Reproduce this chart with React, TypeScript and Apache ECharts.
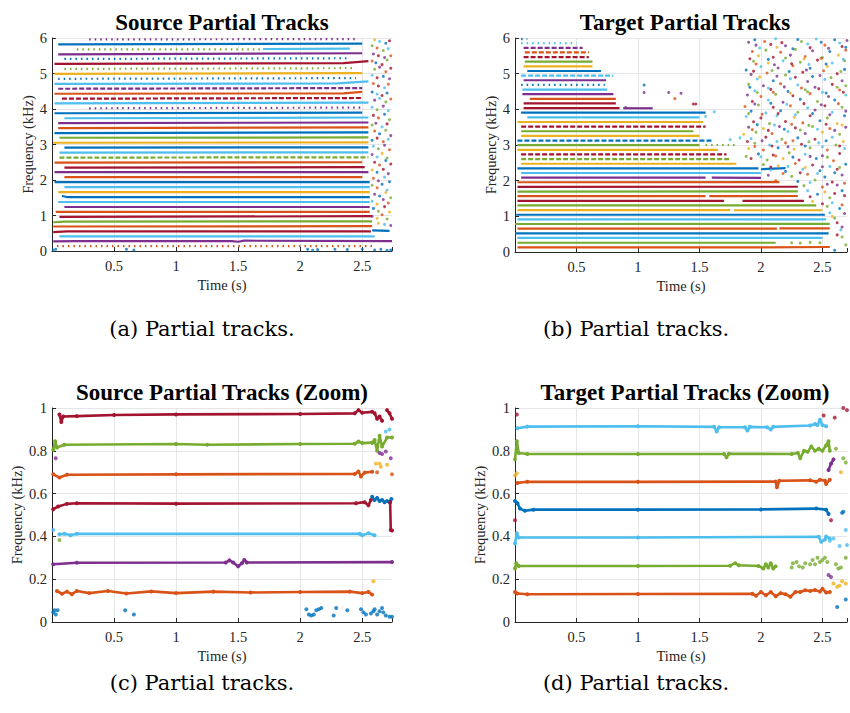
import React, { useEffect, useRef } from 'react';
import * as echarts from 'echarts';

// MATLAB default colour order: blue, orange, yellow, purple, green, light blue, dark red
const PALETTE = ['#0072BD', '#D95319', '#EDB120', '#7E2F8E', '#77AC30', '#4DBEEE', '#A2142F'];

const titles = ['Source Partial Tracks', 'Target Partial Tracks', 'Source Partial Tracks (Zoom)', 'Target Partial Tracks (Zoom)'];
const captions = ['(a) Partial tracks.', '(b) Partial tracks.', '(c) Partial tracks.', '(d) Partial tracks.'];
const xName = 'Time (s)';
const yName = 'Frequency (kHz)';
const timeMax = [2.74, 2.7, 2.74, 2.7];

// ---------- (a) Source partial tracks: each track = list of [time s, freq kHz]
const srcTracks: number[][][] = [
  [[0.04, 0.14], [2.58, 0.14]],
  [[0.01, 0.27], [0.2, 0.28], [1.45, 0.28], [1.5, 0.26], [1.55, 0.29], [2.74, 0.28]],
  [[0.06, 0.41], [2.6, 0.41]],
  [[0.01, 0.53], [0.12, 0.555], [2.57, 0.555]],
  [[2.58, 0.58], [2.72, 0.565]],
  [[0.01, 0.69], [2.58, 0.7]],
  [[0.01, 0.81], [0.1, 0.83], [2.58, 0.835]],
  [[0.06, 0.96], [2.58, 0.98]],
  [[0.03, 1.1], [2.56, 1.1]],
  [[0.1, 1.24], [2.56, 1.24]],
  [[0.05, 1.38], [2.56, 1.38]],
  [[0.08, 1.55], [0.12, 1.52], [2.56, 1.52]],
  [[0.05, 1.66], [2.56, 1.66]],
  [[0.1, 1.8], [2.56, 1.8]],
  [[0.02, 1.94], [2.56, 1.94]],
  [[0.1, 2.08], [2.5, 2.08]],
  [[0.02, 2.22], [2.55, 2.22]],
  [[0.1, 2.35], [2.52, 2.36]],
  [[0.02, 2.49], [2.5, 2.5]],
  [[0.06, 2.63], [2.55, 2.64]],
  [[0.06, 2.77], [2.55, 2.78]],
  [[0.1, 2.91], [2.55, 2.92]],
  [[0.01, 3.05], [2.55, 3.06]],
  [[0.06, 3.19], [2.55, 3.2]],
  [[0.02, 3.32], [2.55, 3.34]],
  [[0.05, 3.46], [2.55, 3.48]],
  [[0.05, 3.6], [2.55, 3.62]],
  [[0.1, 3.74], [2.55, 3.76]],
  [[0.02, 3.88], [2.5, 3.9]],
  [[0.3, 4.02], [2.5, 4.04]],
  [[0.02, 4.16], [2.55, 4.18]],
  [[0.08, 4.29], [2.5, 4.31]],
  [[0.02, 4.43], [2.35, 4.44], [2.5, 4.48]],
  [[0.05, 4.57], [2.5, 4.59]],
  [[0.02, 4.71], [2.3, 4.72], [2.55, 4.78]],
  [[0.05, 4.85], [2.45, 4.87]],
  [[0.02, 4.99], [2.5, 5.01]],
  [[0.1, 5.13], [2.45, 5.15]],
  [[0.02, 5.27], [2.35, 5.29], [2.55, 5.35]],
  [[0.1, 5.41], [2.4, 5.43]],
  [[0.05, 5.54], [2.5, 5.57]],
  [[0.2, 5.68], [1.7, 5.68]],
  [[1.7, 5.69], [2.4, 5.7]],
  [[0.05, 5.82], [2.5, 5.84]],
  [[0.3, 5.96], [2.45, 5.97]],
];
const srcTrackColor = [1, 3, 5, 6, 0, 1, 4, 6, 1, 3, 5, 0, 2, 5, 0, 1, 3, 6, 1, 4, 5, 0, 2, 4, 0, 1, 3, 5, 0, 3, 5, 6, 1, 3, 5, 0, 2, 4, 6, 0, 3, 4, 5, 0, 3];
const srcSparse = [0, 29, 35, 37, 39, 41, 44];
const srcDashed = [19, 31, 33];

// scattered peaks: [time, freq, colour index]
const srcScatter: number[][] = [
  [0.01, 0.03, 0], [0.03, 0.05, 0], [0.6, 0.05, 0], [0.66, 0.03, 0], [2.06, 0.05, 0], [2.1, 0.02, 0], [2.14, 0.04, 0],
  [2.28, 0.05, 0], [2.38, 0.04, 0], [2.5, 0.05, 0], [2.6, 0.03, 0], [2.65, 0.05, 0], [2.7, 0.02, 0], [2.73, 0.03, 0],
  [2.6, 5.95, 2], [2.64, 5.9, 5], [2.69, 5.85, 0], [2.72, 5.92, 6],
  [2.58, 5.78, 4], [2.62, 5.72, 1], [2.67, 5.65, 4], [2.71, 5.7, 5],
  [2.59, 5.55, 3], [2.63, 5.5, 6], [2.68, 5.45, 3], [2.73, 5.5, 1],
  [2.58, 5.35, 1], [2.61, 5.3, 0], [2.66, 5.25, 6], [2.7, 5.38, 4],
  [2.6, 5.12, 4], [2.64, 5.18, 3], [2.69, 5.05, 1], [2.73, 5.15, 6],
  [2.58, 4.95, 5], [2.62, 4.88, 6], [2.67, 4.92, 0], [2.72, 4.85, 3],
  [2.59, 4.72, 1], [2.63, 4.65, 6], [2.68, 4.6, 5], [2.71, 4.7, 1],
  [2.58, 4.48, 0], [2.62, 4.42, 5], [2.66, 4.38, 6], [2.7, 4.45, 0],
  [2.6, 4.25, 3], [2.64, 4.3, 5], [2.69, 4.2, 4], [2.73, 4.28, 1],
  [2.58, 4.05, 5], [2.62, 3.98, 4], [2.67, 4.08, 3], [2.71, 3.95, 5],
  [2.59, 3.82, 6], [2.63, 3.75, 1], [2.68, 3.85, 0], [2.72, 3.7, 4],
  [2.58, 3.55, 4], [2.61, 3.6, 3], [2.66, 3.5, 5], [2.7, 3.58, 6],
  [2.6, 3.38, 1], [2.64, 3.3, 0], [2.69, 3.4, 4], [2.73, 3.25, 3],
  [2.58, 3.12, 0], [2.62, 3.18, 6], [2.67, 3.08, 1], [2.71, 3.15, 5],
  [2.59, 2.95, 5], [2.63, 2.88, 4], [2.68, 2.98, 3], [2.72, 2.85, 1],
  [2.58, 2.72, 3], [2.62, 2.65, 5], [2.66, 2.75, 2], [2.7, 2.62, 4],
  [2.6, 2.5, 6], [2.64, 2.42, 1], [2.69, 2.55, 0], [2.73, 2.45, 6],
  [2.58, 2.28, 2], [2.62, 2.22, 0], [2.67, 2.3, 6], [2.71, 2.18, 3],
  [2.59, 2.05, 1], [2.63, 1.98, 3], [2.68, 2.08, 5], [2.72, 1.95, 0],
  [2.58, 1.85, 4], [2.62, 1.78, 1], [2.66, 1.88, 0], [2.7, 1.72, 5],
  [2.6, 1.6, 3], [2.64, 1.55, 0], [2.69, 1.65, 2], [2.73, 1.5, 4],
  [2.58, 1.4, 5], [2.62, 1.32, 2], [2.67, 1.45, 3], [2.71, 1.35, 1],
  [2.59, 1.2, 0], [2.63, 1.12, 4], [2.68, 1.25, 6], [2.72, 1.1, 2],
  [2.58, 0.98, 3], [2.62, 0.92, 2], [2.66, 1.02, 1], [2.7, 0.9, 4],
  [2.63, 0.78, 2], [2.68, 0.75, 5], [2.73, 0.72, 3],
];

// ---------- (b) Target partial tracks
const tgtTracks: number[][][] = [
  [[0.02, 0.13], [1.9, 0.13], [2.56, 0.14]],
  [[0.02, 0.26], [2.12, 0.26]],
  [[0.02, 0.395], [2.5, 0.395]],
  [[0.0, 0.525], [2.55, 0.525]],
  [[0.02, 0.655], [2.13, 0.655]],
  [[2.15, 0.66], [2.56, 0.66]],
  [[0.0, 0.785], [2.56, 0.79]],
  [[0.02, 0.915], [2.53, 0.915]],
  [[0.01, 1.045], [2.52, 1.045]],
  [[0.02, 1.175], [1.75, 1.175]],
  [[1.78, 1.17], [2.5, 1.17]],
  [[0.02, 1.305], [2.45, 1.305]],
  [[0.02, 1.435], [1.7, 1.435]],
  [[1.85, 1.435], [2.35, 1.435]],
  [[0.02, 1.565], [1.55, 1.565]],
  [[1.58, 1.565], [2.3, 1.57]],
  [[0.02, 1.695], [2.3, 1.7]],
  [[0.02, 1.825], [2.3, 1.83]],
  [[0.02, 1.955], [2.15, 1.96]],
  [[0.05, 2.085], [1.55, 2.085]],
  [[1.6, 2.085], [2.0, 2.08]],
  [[0.05, 2.215], [2.0, 2.215]],
  [[0.02, 2.345], [1.98, 2.345]],
  [[2.0, 2.32], [2.2, 2.35]],
  [[0.05, 2.475], [1.8, 2.475]],
  [[0.05, 2.605], [1.75, 2.605]],
  [[0.05, 2.735], [1.72, 2.735]],
  [[0.02, 2.865], [1.65, 2.865]],
  [[0.02, 2.995], [1.5, 2.995]],
  [[1.55, 3.0], [1.8, 3.0]],
  [[0.02, 3.125], [1.6, 3.125]],
  [[0.05, 3.255], [1.5, 3.255]],
  [[0.05, 3.385], [1.45, 3.385]],
  [[0.05, 3.515], [1.55, 3.515]],
  [[0.02, 3.645], [1.53, 3.645]],
  [[0.1, 3.775], [1.5, 3.775]],
  [[0.05, 3.905], [1.55, 3.905]],
  [[0.07, 4.035], [0.85, 4.035]],
  [[0.88, 4.03], [1.12, 4.03]],
  [[0.07, 4.165], [0.82, 4.165]],
  [[0.12, 4.295], [0.82, 4.295]],
  [[0.06, 4.425], [0.8, 4.425]],
  [[0.06, 4.555], [0.75, 4.555]],
  [[0.05, 4.685], [0.73, 4.685]],
  [[0.07, 4.815], [0.74, 4.815]],
  [[0.05, 4.945], [0.8, 4.945]],
  [[0.1, 5.075], [0.7, 5.075]],
  [[0.07, 5.205], [0.63, 5.205]],
  [[0.08, 5.335], [0.63, 5.335]],
  [[0.07, 5.465], [0.6, 5.465]],
  [[0.08, 5.595], [0.6, 5.595]],
  [[0.07, 5.725], [0.55, 5.725]],
  [[0.05, 5.855], [0.5, 5.855]],
  [[0.05, 5.97], [0.1, 5.97]],
];
const tgtTrackColor = [1, 4, 5, 0, 1, 1, 4, 5, 0, 2, 2, 4, 6, 6, 1, 1, 4, 6, 1, 3, 3, 5, 0, 0, 2, 4, 6, 2, 4, 4, 0, 2, 4, 6, 2, 5, 0, 6, 3, 6, 1, 3, 5, 0, 3, 5, 0, 2, 4, 6, 1, 3, 5, 0];
const tgtSparse = [29, 43, 52, 53];
const tgtDashed = [25, 26, 30, 33, 45, 49, 50, 51];

const tgtScatter: number[][] = [
  [1.05, 4.68, 0], [1.05, 4.47, 3], [1.25, 4.47, 3], [1.35, 4.45, 3], [1.3, 4.3, 1], [1.45, 4.15, 6], [1.47, 4.15, 6],
  [0.9, 4.05, 3], [1.75, 3.15, 5], [1.83, 3.2, 5], [1.62, 3.93, 5], [1.55, 3.8, 5],
  [1.95, 5.95, 0], [2.12, 5.98, 5], [2.3, 5.96, 0], [2.45, 5.97, 5], [2.6, 5.95, 0], [2.7, 5.93, 3],
  [1.96, 5.8, 3], [2.08, 5.82, 6], [2.2, 5.78, 3], [2.38, 5.83, 5], [2.52, 5.8, 1], [2.66, 5.76, 6],
  [1.93, 5.62, 1], [2.04, 5.66, 4], [2.16, 5.6, 1], [2.28, 5.68, 4], [2.42, 5.64, 3], [2.56, 5.62, 0], [2.69, 5.66, 1],
  [1.98, 5.5, 2], [2.1, 5.46, 6], [2.24, 5.52, 3], [2.36, 5.48, 1], [2.5, 5.45, 4], [2.63, 5.52, 2],
  [1.94, 5.35, 4], [2.06, 5.3, 2], [2.18, 5.36, 5], [2.32, 5.32, 4], [2.46, 5.38, 6], [2.58, 5.3, 5], [2.68, 5.36, 4],
  [1.88, 5.1, 0], [2.0, 5.2, 5], [2.14, 5.16, 3], [2.26, 5.22, 1], [2.4, 5.15, 0], [2.54, 5.2, 2], [2.68, 5.12, 0],
  [1.92, 4.98, 3], [2.05, 5.02, 1], [2.2, 4.96, 4], [2.34, 5.04, 6], [2.48, 4.95, 3], [2.62, 5.0, 6],
  [1.97, 4.85, 5], [2.1, 4.8, 0], [2.24, 4.86, 5], [2.38, 4.78, 3], [2.52, 4.84, 5], [2.66, 4.8, 3],
  [1.9, 4.7, 4], [2.02, 4.66, 3], [2.16, 4.72, 1], [2.3, 4.68, 5], [2.44, 4.62, 3], [2.58, 4.7, 6], [2.69, 4.66, 4],
  [1.95, 4.52, 5], [2.08, 4.56, 6], [2.22, 4.5, 0], [2.36, 4.55, 4], [2.5, 4.48, 5], [2.64, 4.54, 1],
  [1.89, 4.4, 3], [2.0, 4.36, 1], [2.12, 4.42, 4], [2.26, 4.38, 6], [2.4, 4.44, 1], [2.55, 4.36, 3], [2.69, 4.4, 5],
  [1.93, 4.22, 6], [2.06, 4.26, 5], [2.18, 4.2, 3], [2.32, 4.28, 0], [2.46, 4.22, 4], [2.6, 4.26, 0],
  [1.87, 4.08, 1], [1.98, 4.12, 4], [2.1, 4.06, 6], [2.24, 4.1, 1], [2.38, 4.04, 5], [2.52, 4.1, 6], [2.66, 4.06, 4],
  [1.92, 3.95, 0], [2.04, 3.9, 5], [2.16, 3.96, 0], [2.3, 3.92, 4], [2.44, 3.98, 3], [2.58, 3.92, 5], [2.69, 3.95, 3],
  [1.88, 3.8, 5], [2.0, 3.76, 6], [2.13, 3.82, 5], [2.27, 3.78, 2], [2.4, 3.82, 6], [2.54, 3.76, 4], [2.68, 3.82, 0],
  [1.94, 3.65, 6], [2.07, 3.6, 4], [2.2, 3.66, 6], [2.34, 3.62, 1], [2.48, 3.68, 0], [2.62, 3.6, 2],
  [1.9, 3.5, 3], [2.02, 3.46, 2], [2.15, 3.52, 3], [2.28, 3.48, 6], [2.42, 3.52, 4], [2.56, 3.46, 1], [2.69, 3.5, 3],
  [1.86, 3.3, 2], [1.96, 3.36, 4], [2.09, 3.32, 1], [2.22, 3.38, 5], [2.36, 3.32, 3], [2.5, 3.36, 2], [2.64, 3.3, 4],
  [1.92, 3.18, 5], [2.04, 3.22, 6], [2.17, 3.16, 4], [2.3, 3.2, 0], [2.44, 3.16, 6], [2.58, 3.22, 5],
  [1.95, 3.05, 4], [2.07, 3.0, 5], [2.2, 3.06, 1], [2.33, 3.02, 6], [2.47, 3.06, 5], [2.61, 3.0, 4],
  [1.9, 2.9, 2], [2.02, 2.86, 1], [2.14, 2.92, 0], [2.27, 2.88, 2], [2.4, 2.92, 4], [2.54, 2.86, 1], [2.68, 2.9, 5],
  [1.98, 2.75, 0], [2.1, 2.72, 6], [2.23, 2.78, 4], [2.36, 2.74, 5], [2.5, 2.7, 3], [2.64, 2.76, 6],
  [1.92, 2.62, 6], [2.05, 2.58, 4], [2.18, 2.62, 2], [2.31, 2.58, 6], [2.45, 2.62, 0], [2.59, 2.56, 1],
  [2.02, 2.45, 4], [2.14, 2.42, 2], [2.28, 2.48, 1], [2.42, 2.44, 6], [2.56, 2.4, 5], [2.69, 2.46, 0],
  [2.08, 2.3, 5], [2.2, 2.26, 0], [2.34, 2.32, 5], [2.48, 2.28, 0], [2.62, 2.32, 6],
  [2.06, 2.15, 3], [2.25, 2.12, 4], [2.38, 2.18, 1], [2.52, 2.1, 0], [2.66, 2.16, 3],
  [2.12, 2.0, 1], [2.3, 1.98, 0], [2.44, 2.02, 4], [2.58, 1.96, 6],
  [2.35, 1.86, 4], [2.5, 1.82, 1], [2.62, 1.88, 3],
  [2.38, 1.72, 5], [2.52, 1.68, 2], [2.66, 1.72, 0],
  [2.4, 1.55, 6], [2.56, 1.52, 4], [2.68, 1.58, 6],
  [2.42, 1.42, 2], [2.58, 1.38, 5],
  [2.54, 1.28, 4], [2.64, 1.22, 0],
  [2.56, 1.1, 5], [2.68, 1.08, 3],
  [2.6, 0.95, 4], [2.62, 0.82, 6], [2.65, 0.62, 5], [2.66, 0.42, 4],
  [2.6, 0.05, 0], [2.69, 0.2, 4],
  [2.25, 0.26, 4], [2.32, 0.25, 4], [2.4, 0.27, 4], [2.48, 0.26, 4],
  [1.9, 5.88, 3], [2.03, 5.9, 1], [2.17, 5.87, 6], [2.33, 5.9, 4], [2.49, 5.88, 0], [2.64, 5.86, 5],
  [1.99, 5.72, 5], [2.13, 5.74, 2], [2.26, 5.7, 0], [2.4, 5.73, 6], [2.55, 5.71, 3], [2.69, 5.74, 0],
  [1.91, 5.42, 6], [2.06, 5.4, 0], [2.2, 5.44, 4], [2.35, 5.41, 2], [2.49, 5.43, 1], [2.67, 5.4, 5],
  [1.96, 5.27, 1], [2.11, 5.25, 3], [2.25, 5.28, 6], [2.39, 5.26, 5], [2.53, 5.27, 0],
  [1.94, 5.07, 6], [2.09, 5.09, 4], [2.23, 5.06, 0], [2.37, 5.1, 3], [2.51, 5.08, 1], [2.65, 5.06, 4],
  [1.99, 4.91, 2], [2.13, 4.93, 3], [2.28, 4.9, 6], [2.42, 4.92, 0], [2.57, 4.89, 4],
  [1.91, 4.62, 0], [2.06, 4.6, 5], [2.19, 4.63, 3], [2.33, 4.6, 1], [2.47, 4.58, 6], [2.62, 4.62, 4],
  [1.97, 4.47, 4], [2.1, 4.48, 1], [2.24, 4.45, 2], [2.38, 4.49, 4], [2.53, 4.46, 0], [2.67, 4.48, 6],
  [1.95, 4.15, 3], [2.08, 4.17, 0], [2.21, 4.14, 5], [2.35, 4.16, 6], [2.49, 4.13, 3], [2.63, 4.16, 1],
  [1.9, 3.88, 4], [2.01, 3.86, 1], [2.14, 3.88, 6], [2.28, 3.85, 5], [2.42, 3.88, 0], [2.56, 3.85, 3],
  [1.97, 3.57, 0], [2.11, 3.56, 5], [2.25, 3.58, 1], [2.39, 3.55, 4], [2.53, 3.58, 6], [2.66, 3.56, 2],
  [1.93, 3.43, 1], [2.06, 3.41, 6], [2.19, 3.44, 0], [2.32, 3.42, 4], [2.46, 3.44, 5], [2.6, 3.41, 3],
  [1.89, 3.1, 6], [2.01, 3.12, 3], [2.13, 3.1, 5], [2.26, 3.12, 1], [2.39, 3.09, 4], [2.53, 3.12, 0], [2.67, 3.1, 2],
  [1.95, 2.96, 1], [2.09, 2.97, 6], [2.22, 2.95, 3], [2.36, 2.97, 0], [2.5, 2.95, 5], [2.64, 2.97, 6],
  [1.88, 2.68, 4], [2.0, 2.67, 5], [2.12, 2.69, 1], [2.26, 2.66, 0], [2.4, 2.68, 3], [2.54, 2.66, 4],
  [2.08, 2.38, 6], [2.22, 2.4, 5], [2.36, 2.37, 2], [2.5, 2.39, 3], [2.64, 2.37, 4],
  [2.18, 2.2, 1], [2.32, 2.22, 6], [2.46, 2.2, 5], [2.6, 2.22, 0],
  [2.4, 1.95, 5], [2.54, 1.9, 3], [2.68, 1.93, 1],
  [2.46, 1.62, 0], [2.6, 1.64, 6],
  [2.5, 1.35, 6], [2.66, 1.32, 1],
  [2.58, 1.0, 2], [2.66, 0.7, 3], [2.62, 0.48, 6],
];

// ---------- (c) Source partial tracks, zoom 0–1 kHz
const srcZoomTracks: number[][][] = [
  [[0.06, 0.97], [0.075, 0.935], [0.09, 0.96], [0.2, 0.962], [0.5, 0.967], [1.0, 0.97], [2.0, 0.972], [2.44, 0.975], [2.47, 0.99], [2.5, 0.978], [2.58, 0.982]],
  [[2.6, 0.975], [2.62, 0.95], [2.64, 0.96], [2.66, 0.94]],
  [[2.7, 0.99], [2.72, 0.975], [2.74, 0.95]],
  [[0.01, 0.805], [0.025, 0.845], [0.04, 0.815], [0.1, 0.828], [1.0, 0.832], [1.25, 0.828], [2.0, 0.832], [2.44, 0.833], [2.47, 0.843], [2.5, 0.836], [2.58, 0.838]],
  [[2.58, 0.838], [2.6, 0.85], [2.62, 0.8], [2.64, 0.87], [2.66, 0.82], [2.7, 0.862], [2.74, 0.862]],
  [[0.01, 0.69], [0.06, 0.675], [0.12, 0.688], [1.0, 0.69], [2.44, 0.692], [2.47, 0.703], [2.49, 0.68], [2.52, 0.698], [2.58, 0.702]],
  [[0.01, 0.527], [0.05, 0.54], [0.12, 0.552], [0.2, 0.555], [1.0, 0.553], [2.45, 0.555], [2.52, 0.56], [2.55, 0.545], [2.57, 0.57]],
  [[2.58, 0.585], [2.6, 0.57], [2.62, 0.58], [2.64, 0.565], [2.66, 0.57], [2.68, 0.56], [2.7, 0.565], [2.72, 0.56], [2.735, 0.575]],
  [[2.725, 0.56], [2.73, 0.43], [2.74, 0.428]],
  [[0.06, 0.41], [0.1, 0.412], [0.15, 0.405], [0.2, 0.412], [2.48, 0.412], [2.5, 0.405], [2.55, 0.415], [2.6, 0.405]],
  [[0.01, 0.27], [0.2, 0.277], [1.4, 0.278], [1.43, 0.288], [1.46, 0.278], [1.5, 0.26], [1.53, 0.275], [1.55, 0.29], [1.57, 0.278], [2.74, 0.28]],
  [[0.04, 0.145], [0.08, 0.132], [0.12, 0.142], [0.16, 0.13], [0.2, 0.145], [0.3, 0.135], [0.45, 0.145], [0.6, 0.133], [0.8, 0.143], [1.0, 0.135], [1.3, 0.142], [1.6, 0.138], [2.0, 0.14], [2.4, 0.142], [2.5, 0.135], [2.55, 0.14], [2.58, 0.128]],
];
const srcZoomColor = [6, 6, 6, 4, 4, 1, 6, 0, 6, 5, 3, 1];
const srcZoomScatter: number[][] = [
  [0.01, 0.045, 0], [0.02, 0.055, 0], [0.03, 0.035, 0], [0.045, 0.055, 0], [0.59, 0.055, 0], [0.66, 0.035, 0],
  [2.05, 0.06, 0], [2.07, 0.035, 0], [2.09, 0.03, 0], [2.11, 0.035, 0], [2.13, 0.055, 0], [2.15, 0.06, 0], [2.17, 0.065, 0],
  [2.27, 0.03, 0], [2.29, 0.065, 0], [2.38, 0.055, 0], [2.49, 0.06, 0], [2.51, 0.045, 0], [2.53, 0.035, 0],
  [2.57, 0.04, 0], [2.59, 0.05, 0], [2.6, 0.06, 0], [2.62, 0.035, 0], [2.64, 0.05, 0], [2.66, 0.065, 0], [2.67, 0.045, 0],
  [2.69, 0.03, 0], [2.72, 0.025, 0], [2.74, 0.025, 0],
  [2.69, 0.89, 5], [2.72, 0.9, 5], [0.01, 0.43, 5],
  [2.64, 0.79, 3], [2.66, 0.785, 3], [2.69, 0.797, 3], [2.73, 0.765, 3], [0.03, 0.765, 3],
  [2.61, 0.74, 2], [2.64, 0.74, 2], [2.65, 0.725, 2], [2.7, 0.735, 2], [2.59, 0.19, 2],
  [2.62, 0.7, 1], [2.74, 0.69, 1], [0.06, 0.383, 4],
];

// ---------- (d) Target partial tracks, zoom 0–1 kHz
const tgtZoomTracks: number[][][] = [
  [[0.02, 0.905], [0.1, 0.913], [1.0, 0.915], [1.62, 0.912], [1.64, 0.89], [1.66, 0.91], [1.87, 0.91], [1.89, 0.895], [1.91, 0.912], [2.05, 0.91], [2.08, 0.9], [2.1, 0.912], [2.4, 0.918], [2.44, 0.925], [2.46, 0.92], [2.48, 0.945], [2.5, 0.92], [2.53, 0.915]],
  [[0.0, 0.76], [0.015, 0.845], [0.03, 0.79], [0.1, 0.785], [1.0, 0.785], [1.7, 0.785], [1.72, 0.77], [1.74, 0.786], [2.25, 0.785], [2.3, 0.79], [2.32, 0.765], [2.35, 0.8], [2.38, 0.795], [2.41, 0.82], [2.44, 0.8], [2.47, 0.81], [2.5, 0.8], [2.53, 0.825], [2.55, 0.845], [2.56, 0.8]],
  [[0.02, 0.65], [0.1, 0.655], [1.0, 0.655], [2.12, 0.656], [2.13, 0.63], [2.15, 0.66], [2.4, 0.662], [2.45, 0.655], [2.48, 0.665], [2.52, 0.66], [2.53, 0.645], [2.56, 0.665]],
  [[0.0, 0.565], [0.02, 0.555], [0.04, 0.53], [0.08, 0.52], [0.15, 0.525], [1.0, 0.525], [2.0, 0.526], [2.45, 0.53], [2.53, 0.525], [2.55, 0.505]],
  [[0.0, 0.367], [0.015, 0.415], [0.03, 0.395], [1.0, 0.395], [2.47, 0.398], [2.49, 0.375], [2.52, 0.385], [2.53, 0.4], [2.56, 0.39]],
  [[0.0, 0.25], [0.01, 0.275], [0.03, 0.262], [1.0, 0.262], [1.75, 0.263], [1.79, 0.275], [1.82, 0.265], [1.98, 0.262], [2.02, 0.25], [2.04, 0.27], [2.06, 0.255], [2.08, 0.275], [2.1, 0.25], [2.12, 0.26]],
  [[0.0, 0.14], [0.02, 0.133], [0.1, 0.13], [1.0, 0.131], [1.93, 0.132], [1.96, 0.123], [2.0, 0.14], [2.04, 0.125], [2.08, 0.14], [2.12, 0.12], [2.16, 0.135], [2.2, 0.13], [2.24, 0.118], [2.28, 0.14], [2.32, 0.14], [2.36, 0.148], [2.4, 0.145], [2.44, 0.15], [2.48, 0.142], [2.5, 0.155], [2.53, 0.138], [2.56, 0.14]],
  [[2.55, 0.71], [2.57, 0.74], [2.59, 0.76]],
];
const tgtZoomColor = [5, 4, 1, 0, 5, 4, 1, 3];
const tgtZoomScatter: number[][] = [
  [2.25, 0.255, 4], [2.26, 0.275, 4], [2.29, 0.28, 4], [2.31, 0.26, 4], [2.34, 0.255, 4], [2.36, 0.275, 4], [2.4, 0.27, 4],
  [2.42, 0.29, 4], [2.44, 0.27, 4], [2.46, 0.3, 4], [2.48, 0.28, 4], [2.5, 0.29, 4], [2.52, 0.3, 4], [2.54, 0.28, 4],
  [0.015, 0.97, 6], [0.0, 0.475, 6], [2.51, 0.965, 6], [2.6, 0.955, 6], [2.67, 1.0, 6], [2.7, 0.99, 6], [2.57, 0.475, 6],
  [2.55, 0.22, 3], [2.57, 0.21, 3],
  [0.0, 0.685, 2], [0.015, 0.695, 2], [2.65, 0.7, 2], [2.59, 0.18, 2], [2.62, 0.165, 2], [2.64, 0.17, 2], [2.66, 0.19, 2], [2.69, 0.18, 2],
  [2.61, 0.81, 4], [2.67, 0.765, 4], [2.69, 0.745, 4], [2.61, 0.27, 4], [2.63, 0.25, 4], [2.65, 0.255, 4], [2.69, 0.3, 4],
  [2.62, 0.07, 0], [2.69, 0.105, 0], [2.66, 0.51, 0], [2.67, 0.515, 0],
  [2.64, 0.355, 5], [2.69, 0.43, 5], [2.7, 0.36, 5], [2.59, 0.39, 5], [2.56, 0.38, 5],
];

const SERIF = 'Liberation Serif';
const AX = '#262626';

function buildOption() {
  const grids = [
    { left: 52, top: 38, width: 340, height: 213 },
    { left: 515, top: 38, width: 335, height: 214 },
    { left: 52, top: 408, width: 340, height: 214 },
    { left: 515, top: 408, width: 335, height: 214 },
  ];
  const yGaps = [14, 16, 27, 27];
  const labelStyle = { color: AX, fontFamily: SERIF, fontSize: 14.5, fontWeight: 'normal' as const };
  const xAxes = grids.map((_, i) => ({
    gridIndex: i, type: 'value', min: 0, max: timeMax[i], interval: 0.5,
    axisLine: { show: true, onZero: false, lineStyle: { color: AX, width: 1 } },
    axisTick: { show: true, inside: true, length: 4, lineStyle: { color: AX } },
    axisLabel: {
      ...labelStyle, margin: 7,
      formatter: (v: number) => (v > 0 && Math.abs(v * 2 - Math.round(v * 2)) < 1e-6 ? String(v) : ''),
    },
    splitLine: { show: true, showMinLine: false, showMaxLine: false, lineStyle: { color: '#e6e6e6', width: 1 } },
    name: xName, nameLocation: 'middle', nameGap: 26,
    nameTextStyle: { ...labelStyle },
  }));
  const yAxes = grids.map((_, i) => {
    const zoom = i >= 2;
    return {
      gridIndex: i, type: 'value', min: 0, max: zoom ? 1 : 6, interval: zoom ? 0.2 : 1,
      axisLine: { show: true, onZero: false, lineStyle: { color: AX, width: 1 } },
      axisTick: { show: true, inside: true, length: 4, lineStyle: { color: AX } },
      axisLabel: {
        ...labelStyle, margin: 5,
        formatter: (v: number) => String(Math.round(v * 10) / 10),
      },
      splitLine: { show: true, showMinLine: false, lineStyle: { color: '#e6e6e6', width: 1 } },
      name: yName, nameLocation: 'middle', nameGap: yGaps[i],
      nameTextStyle: { ...labelStyle },
    };
  });

  const series: any[] = [];
  const addTracks = (tracks: number[][][], colors: number[], sparse: number[], dashed: number[], idx: number, zoom: boolean) => {
    tracks.forEach((pts, i) => {
      const c = PALETTE[colors[i]];
      const type = sparse.includes(i) ? [1.5, 4] : dashed.includes(i) ? [5, 2] : 'solid';
      series.push({
        type: 'line', xAxisIndex: idx, yAxisIndex: idx, data: pts,
        showSymbol: zoom, symbol: 'circle', symbolSize: 4,
        lineStyle: { color: c, width: zoom ? 2.6 : 2.2, type },
        itemStyle: { color: c }, silent: true, z: 2,
      });
    });
  };
  const addScatter = (pts: number[][], idx: number, size: number) => {
    series.push({
      type: 'scatter', xAxisIndex: idx, yAxisIndex: idx, symbolSize: size, silent: true, z: 3,
      data: pts.map((p) => ({ value: [p[0], p[1]], itemStyle: { color: PALETTE[p[2]] } })),
    });
  };
  addTracks(srcTracks, srcTrackColor, srcSparse, srcDashed, 0, false);
  addScatter(srcScatter, 0, 3);
  addTracks(tgtTracks, tgtTrackColor, tgtSparse, tgtDashed, 1, false);
  addScatter(tgtScatter, 1, 3);
  addTracks(srcZoomTracks, srcZoomColor, [], [], 2, true);
  addScatter(srcZoomScatter, 2, 4);
  addTracks(tgtZoomTracks, tgtZoomColor, [], [], 3, true);
  addScatter(tgtZoomScatter, 3, 4);

  const titlePos = [[222, 22], [685, 22], [222, 392], [685, 392]];
  const capPos = [[202, 329], [636, 329], [202, 683], [636, 683]];
  const graphic: any[] = [];
  titles.forEach((t, i) => graphic.push({
    type: 'text', x: titlePos[i][0], y: titlePos[i][1], silent: true,
    style: { text: t, fontFamily: SERIF, fontWeight: 'bold', fontSize: 23, fill: '#000', textAlign: 'center', textVerticalAlign: 'middle' },
  }));
  captions.forEach((t, i) => graphic.push({
    type: 'text', x: capPos[i][0], y: capPos[i][1], silent: true,
    style: { text: t, fontFamily: 'DejaVu Serif', fontSize: 21, fill: '#000', textAlign: 'center', textVerticalAlign: 'middle' },
  }));

  return {
    animation: false,
    backgroundColor: '#ffffff',
    textStyle: { fontFamily: SERIF, fontSize: 14.5, color: AX },
    grid: grids.map((g) => ({ ...g, containLabel: false })),
    xAxis: xAxes,
    yAxis: yAxes,
    series,
    graphic,
  };
}

export default function App() {
  const ref = useRef<HTMLDivElement>(null);
  useEffect(() => {
    if (!ref.current) return;
    const chart = echarts.init(ref.current, undefined, { renderer: 'svg' });
    chart.setOption(buildOption() as any);
    return () => chart.dispose();
  }, []);
  return (
    <div
      ref={ref}
      style={{ position: 'fixed', left: 0, top: 0, width: 850, height: 713, background: '#fff' }}
    />
  );
}
